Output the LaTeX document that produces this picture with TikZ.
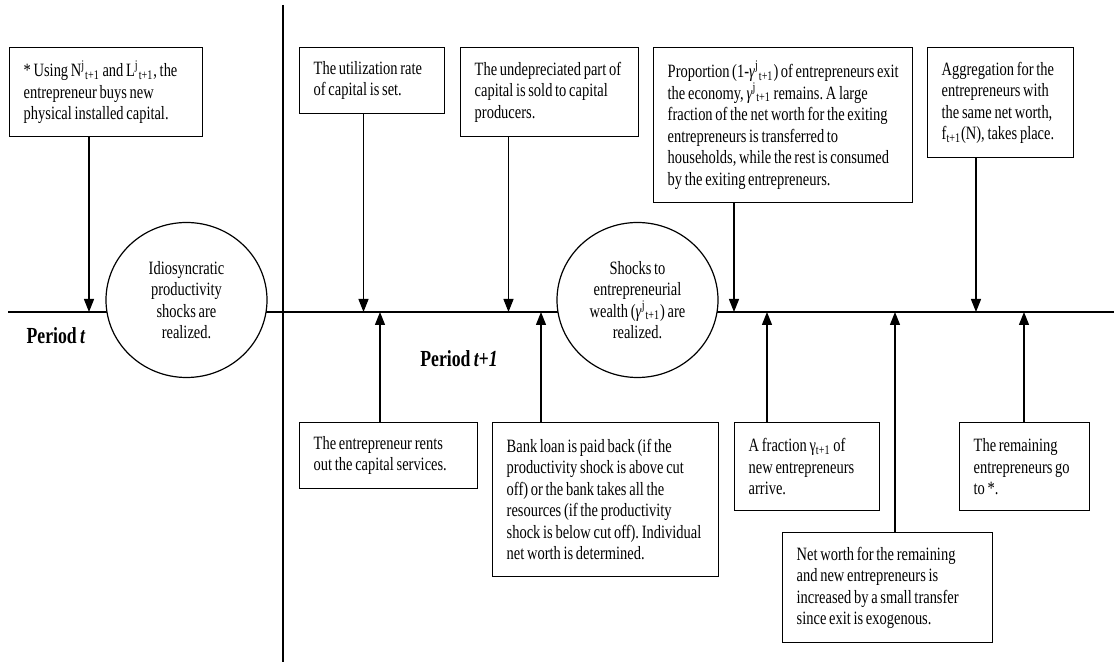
\documentclass[tikz,border=0pt]{standalone}
\usepackage{fontspec}
\setmainfont{Liberation Serif}[FakeStretch=0.77,WordSpace=0.75]
\usetikzlibrary{arrows.meta,shapes.geometric}
\frenchspacing

\newcommand{\gj}{\textit{γ}\textsuperscript{j}\textsubscript{t+1}}

\begin{document}
\begin{tikzpicture}[x=0.5pt,y=-0.5pt,
    font=\fontsize{9.4pt}{10.75pt}\selectfont,
    box/.style 2 args={draw,line width=0.7pt,anchor=north west,align=flush left,
      inner xsep=7pt,inner ysep=0pt,text width=#1,minimum height=#2},
    shock/.style={draw,line width=0.6pt,ellipse,fill=white,align=center,
      minimum width=80.5pt,minimum height=77.5pt,inner sep=0pt},
    arr/.style={line width=0.6pt,-{Triangle[length=6.5pt,width=5pt]}},
    period/.style={font=\fontsize{11.5pt}{13pt}\selectfont\bfseries}]
  \useasboundingbox (0,0) rectangle (1114,667);

  % time line and the split between the two periods
  \coordinate (tl0) at (8,312);
  \coordinate (tl1) at (1114,312);
  \coordinate (vtop) at (283,5);
  \coordinate (vbot) at (283,662);
  \draw[line width=0.6pt] (tl0) -- (tl1);
  \draw[line width=0.6pt] (vtop) -- (vbot);

  % points on the time line
  \coordinate (e1) at (89,312);
  \coordinate (e2) at (363.5,312);
  \coordinate (e3) at (380,312);
  \coordinate (e4) at (508.5,312);
  \coordinate (e5) at (541,312);
  \coordinate (e6) at (734,312);
  \coordinate (e7) at (767,312);
  \coordinate (e8) at (895,312);
  \coordinate (e9) at (976,312);
  \coordinate (e10) at (1024,312);

  \node[shock] (idio) at (186.5,300) {Idiosyncratic\\ productivity\\ shocks are\\ realized.};
  \node[shock] (wealth) at (637.5,300) {Shocks to\\ entrepreneurial\\ wealth (\gj) are\\ realized.};

  \node[period] (pt) at (56,336) {Period \textit{t}};
  \node[period] (pt1) at (459,359) {Period \textit{t+1}};

  % boxes above the line
  \node[box={82.5pt}{44.5pt}] (buy) at (9,47) {* Using N\textsuperscript{j}\textsubscript{t+1} and L\textsuperscript{j}\textsubscript{t+1}, the\\ entrepreneur buys new\\ physical installed capital.};
  \node[box={58.5pt}{33pt}] (util) at (299,47) {The utilization rate\\ of capital is set.};
  \node[box={75pt}{44.5pt}] (undep) at (460,47) {The undepreciated part of\\ capital is sold to capital\\ producers.};
  \node[box={115.5pt}{77.5pt}] (exit) at (653,47) {Proportion (1-\gj) of entrepreneurs exit\\ the economy, \gj{} remains. A large\\ fraction of the net worth for the exiting\\ entrepreneurs is transferred to\\ households, while the rest is consumed\\ by the exiting entrepreneurs.};
  \node[box={59pt}{55pt}] (aggr) at (927,47) {Aggregation for the\\ entrepreneurs with\\ the same net worth,\\ f\textsubscript{t+1}(N), takes place.};

  % boxes below the line
  \node[box={75pt}{33pt}] (rents) at (299,422) {The entrepreneur rents\\ out the capital services.};
  \node[box={99pt}{77pt}] (bank) at (492,422) {Bank loan is paid back (if the\\ productivity shock is above cut\\ off) or the bank takes all the\\ resources (if the productivity\\ shock is below cut off). Individual\\ net worth is determined.};
  \node[box={58.5pt}{44pt}] (newent) at (734,422) {A fraction γ\textsubscript{t+1} of\\ new entrepreneurs\\ arrive.};
  \node[box={91pt}{55pt}] (worth) at (782,532) {Net worth for the remaining\\ and new entrepreneurs is\\ increased by a small transfer\\ since exit is exogenous.};
  \node[box={51pt}{44pt}] (remain) at (959,422) {The remaining\\ entrepreneurs go\\ to *.};

  % arrows
  \draw[arr] (buy.south -| e1) -- (e1);
  \draw[arr] (util.south -| e2) -- (e2);
  \draw[arr] (undep.south -| e4) -- (e4);
  \draw[arr] (exit.south -| e6) -- (e6);
  \draw[arr] (aggr.south -| e9) -- (e9);
  \draw[arr] (rents.north -| e3) -- (e3);
  \draw[arr] (bank.north -| e5) -- (e5);
  \draw[arr] (newent.north -| e7) -- (e7);
  \draw[arr] (worth.north -| e8) -- (e8);
  \draw[arr] (remain.north -| e10) -- (e10);
\end{tikzpicture}
\end{document}
